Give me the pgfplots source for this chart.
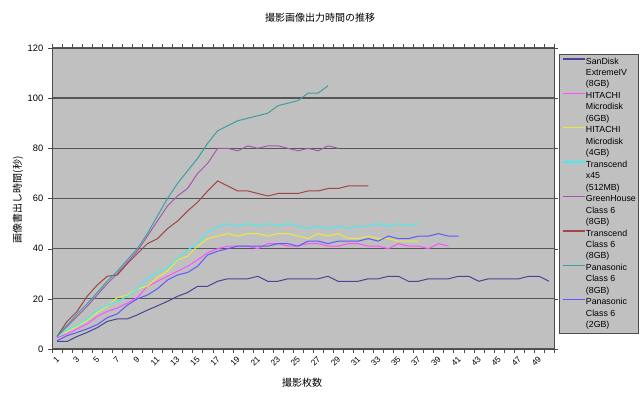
\documentclass[border=0pt]{standalone}
\usepackage{fontspec}
\setmainfont{Liberation Sans}
\newfontfamily\jp{Noto Sans CJK JP}
\usepackage{pgfplots}
\pgfplotsset{compat=1.18}
\definecolor{plotbg}{RGB}{192,192,192}
\definecolor{gridc}{RGB}{85,85,85}
\definecolor{cA}{RGB}{70,70,150}
\definecolor{cB}{RGB}{255,80,255}
\definecolor{cC}{RGB}{235,235,60}
\definecolor{cD}{RGB}{64,240,240}
\definecolor{cE}{RGB}{165,85,175}
\definecolor{cF}{RGB}{160,70,70}
\definecolor{cG}{RGB}{60,160,160}
\definecolor{cH}{RGB}{90,90,255}
\newcommand{\morelines}[2]{\addlegendimage{empty legend}\addlegendentry{#1}\addlegendimage{empty legend}\addlegendentry{#2}}
\begin{document}
\begin{tikzpicture}
\useasboundingbox (0,0) rectangle (480pt,297pt);
\node at (240pt,283.5pt) {\jp\fontsize{7.5}{9}\selectfont 撮影画像出力時間の推移};
\node at (226.5pt,9.75pt) {\jp\fontsize{7.5}{9}\selectfont 撮影枚数};
\node[rotate=90] at (13.5pt,147pt) {\jp\fontsize{7.5}{9}\selectfont 画像書出し時間(秒)};
\begin{axis}[
 at={(39pt,35.25pt)}, anchor=south west, scale only axis,
 width=376.5pt, height=225.75pt,
 xmin=0.5, xmax=50.5, ymin=0, ymax=120,
 axis background/.style={fill=plotbg},
 axis line style={black!70},
 ytick={0,20,...,120}, ymajorgrids,
 major grid style={gridc, line width=1pt},
 xtick={1,3,...,49}, minor xtick={0.5,1.5,...,50.5},
 tick align=outside, major tick length=3pt, minor tick length=3pt,
 major x tick style={draw=none},
 tick style={black!70},
 yticklabel style={font=\fontsize{7}{8}\selectfont},
 xticklabel style={font=\fontsize{6.3}{7}\selectfont, rotate=45, anchor=east, inner sep=0pt, xshift=-2pt, yshift=-3pt},
 /pgf/number format/assume math mode=true,
 legend style={at={(1.00996,0.98)}, anchor=north west, fill=plotbg, draw=black!70,
   font=\fontsize{6.6}{8}\selectfont, inner xsep=2pt, inner ysep=1.5pt,
   nodes={inner sep=0pt, text height=5.8pt, text depth=2.8pt},
   row sep=0pt, /tikz/every even column/.append style={column sep=3pt}},
 legend cell align=left,
 legend image code/.code={\draw[#1, line width=1pt] (0pt,2.3pt) -- (17pt,2.3pt);},
 every axis plot/.append style={line width=0.75pt},
]
\addplot[draw=cA] coordinates {(1,3)(2,3)(3,5)(4,6.6)(5,8.5)(6,11)(7,12)(8,12)(9,13.6)(10,15.5)(11,17.2)(12,19)(13,21)(14,22.5)(15,25)(16,25)(17,27)(18,28)(19,28)(20,28)(21,29)(22,27)(23,27)(24,28)(25,28)(26,28)(27,28)(28,29)(29,27)(30,27)(31,27)(32,28)(33,28)(34,29)(35,29)(36,27)(37,27)(38,28)(39,28)(40,28)(41,29)(42,29)(43,27)(44,28)(45,28)(46,28)(47,28)(48,29)(49,29)(50,27)};
\addlegendentry{SanDisk}
\morelines{ExtremeIV}{(8GB)}
\addplot[draw=cB] coordinates {(1,4.5)(2,6)(3,8)(4,10)(5,13)(6,15)(7,16.3)(8,18.3)(9,20.5)(10,25)(11,27)(12,29)(13,31)(14,33)(15,35.5)(16,38.4)(17,40)(18,41)(19,41)(20,41)(21,40)(22,42)(23,42)(24,41)(25,41)(26,42)(27,42)(28,41)(29,41)(30,42)(31,42)(32,41)(33,41)(34,40)(35,42)(36,41)(37,41)(38,40)(39,42)(40,41)};
\addlegendentry{HITACHI}
\morelines{Microdisk}{(6GB)}
\addplot[draw=cC] coordinates {(1,5)(2,7)(3,9)(4,11.5)(5,14.5)(6,17)(7,20.5)(8,21.5)(9,24)(10,25)(11,28.5)(12,31)(13,35.5)(14,37)(15,41)(16,44)(17,45)(18,46)(19,45)(20,46)(21,46)(22,45)(23,46)(24,46)(25,45)(26,44)(27,46)(28,45)(29,46)(30,44)(31,44)(32,45)(33,44)(34,44)(35,43)(36,43)(37,43)};
\addlegendentry{HITACHI}
\morelines{Microdisk}{(4GB)}
\addplot[draw=cD] coordinates {(1,5)(2,7.5)(3,9.5)(4,12)(5,15.5)(6,17.5)(7,19)(8,21)(9,24)(10,28)(11,30.5)(12,32.5)(13,36)(14,39.5)(15,42)(16,46.5)(17,48.5)(18,50)(19,49)(20,50)(21,49)(22,50)(23,49)(24,50)(25,49)(26,48)(27,49)(28,48)(29,49)(30,48)(31,49)(32,49)(33,50)(34,49)(35,50)(36,49)(37,50)};
\addlegendentry{Transcend}
\morelines{x45}{(512MB)}
\addplot[draw=cE] coordinates {(1,5)(2,9)(3,13)(4,17)(5,21.5)(6,26)(7,30)(8,34.5)(9,39)(10,45)(11,51)(12,57)(13,61)(14,64)(15,70)(16,74)(17,80)(18,80)(19,79)(20,81)(21,80)(22,81)(23,81)(24,80)(25,79)(26,80)(27,79)(28,81)(29,80)};
\addlegendentry{GreenHouse}
\morelines{Class 6}{(8GB)}
\addplot[draw=cF] coordinates {(1,5)(2,11)(3,15)(4,21)(5,25.5)(6,29)(7,29.5)(8,34)(9,38)(10,42)(11,44)(12,48)(13,51)(14,55)(15,58.5)(16,63)(17,67)(18,65)(19,63)(20,63)(21,62)(22,61)(23,62)(24,62)(25,62)(26,63)(27,63)(28,64)(29,64)(30,65)(31,65)(32,65)};
\addlegendentry{Transcend}
\morelines{Class 6}{(8GB)}
\addplot[draw=cG] coordinates {(1,5)(2,9.5)(3,14)(4,18)(5,22.5)(6,27)(7,31)(8,35.5)(9,40)(10,46)(11,53)(12,60)(13,66)(14,71)(15,76)(16,82)(17,87)(18,89)(19,91)(20,92)(21,93)(22,94)(23,97)(24,98)(25,99)(26,102)(27,102)(28,105)};
\addlegendentry{Panasonic}
\morelines{Class 6}{(8GB)}
\addplot[draw=cH] coordinates {(1,3.3)(2,5.3)(3,6.6)(4,8)(5,9.7)(6,12.5)(7,14)(8,17.5)(9,20)(10,21.5)(11,24)(12,27.5)(13,29.5)(14,30.5)(15,33)(16,37.5)(17,39)(18,40)(19,41)(20,41)(21,41)(22,41)(23,42)(24,42)(25,41)(26,43)(27,43)(28,42)(29,43)(30,43)(31,43)(32,44)(33,43)(34,45)(35,44)(36,44)(37,45)(38,45)(39,46)(40,45)(41,45)};
\addlegendentry{Panasonic}
\morelines{Class 6}{(2GB)}
\end{axis}
\end{tikzpicture}
\end{document}
